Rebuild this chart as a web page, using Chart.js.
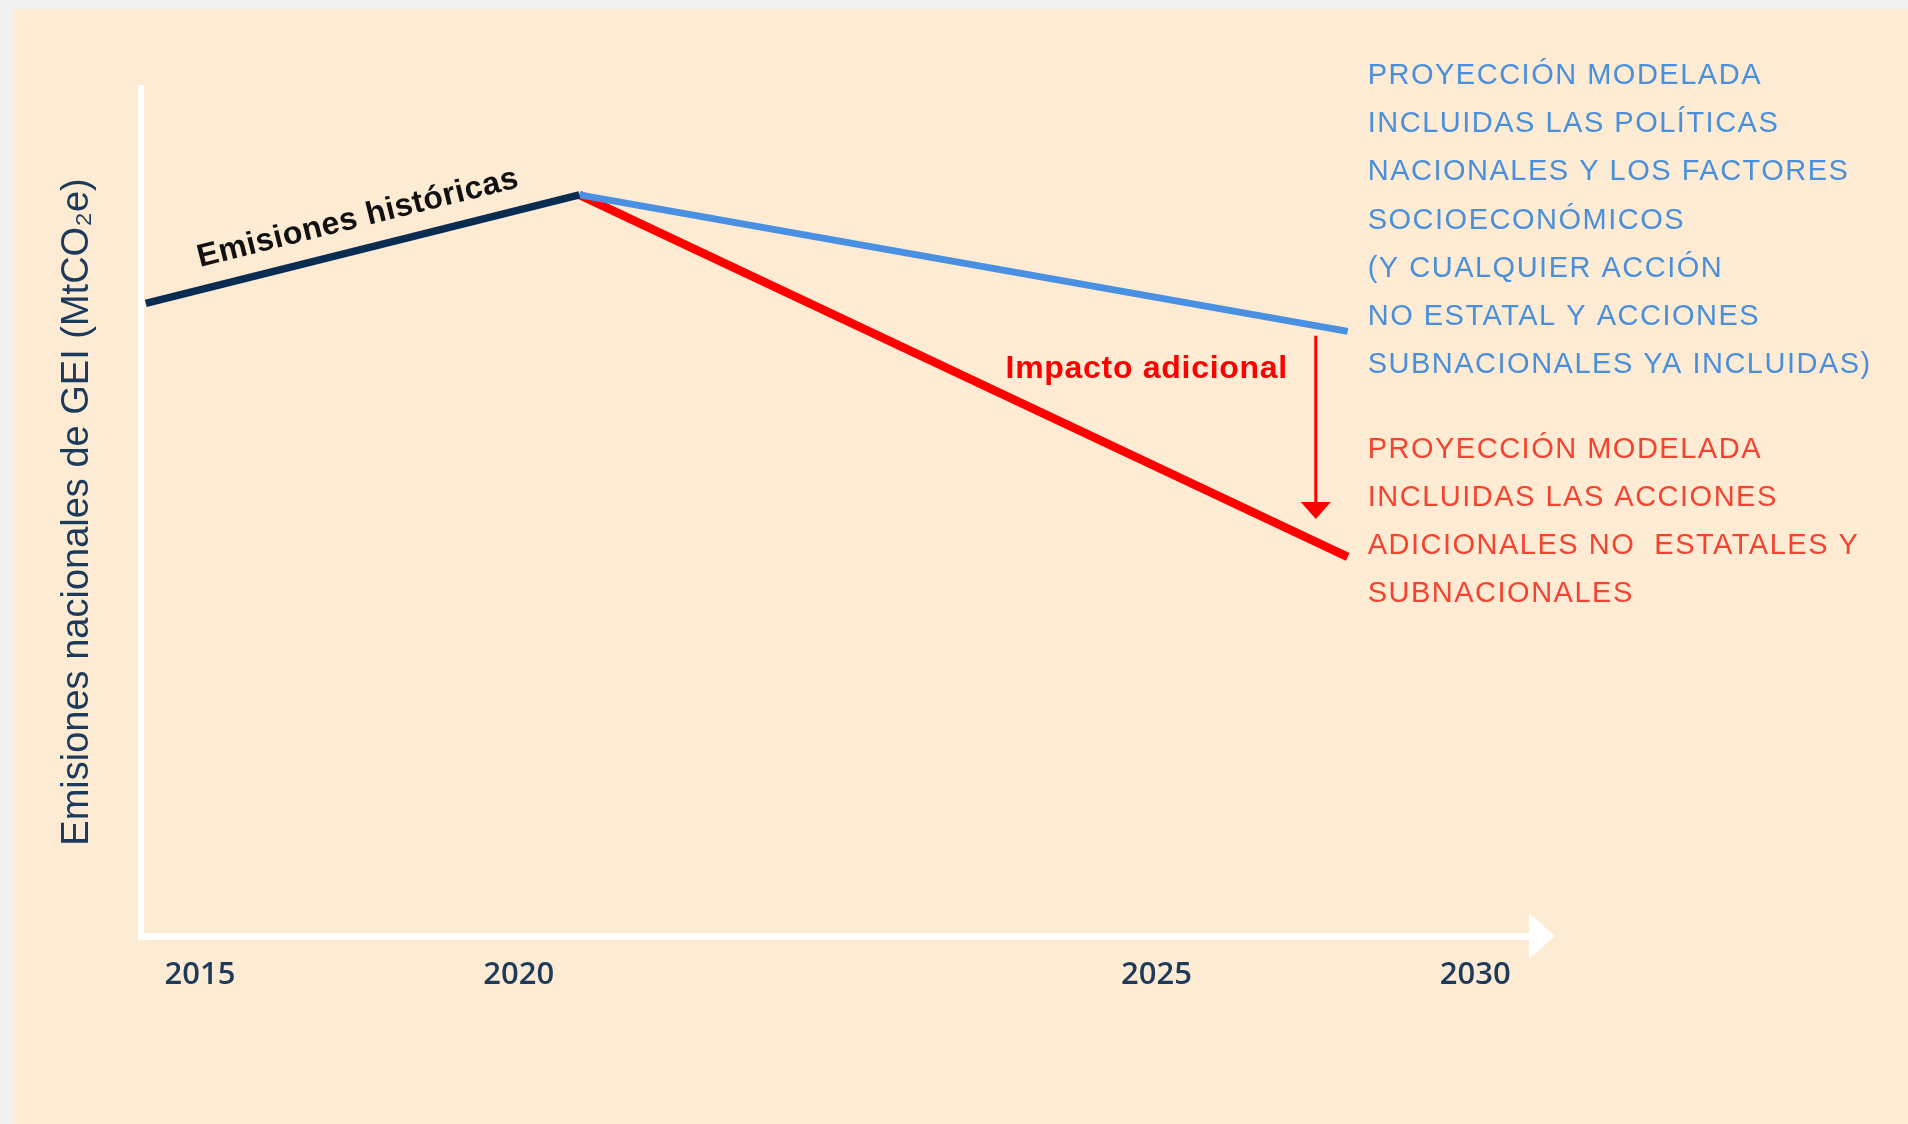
<!DOCTYPE html>
<html>
<head>
<meta charset="utf-8">
<script src="https://cdn.jsdelivr.net/npm/chart.js@4/dist/chart.umd.min.js"></script>
<style>
html,body{margin:0;padding:0;background:#f1f1f1;overflow:hidden}
#wrap{position:absolute;left:0;top:0;width:1908px;height:1124px}
</style>
</head>
<body>
<div id="wrap"><canvas id="c" width="1908" height="1124"></canvas></div>
<script>
// schematic x units: 2015=0, 2020=1, 2025=3, 2030=4
const tickPos=[0,1,3,4]
const tickLabels=["2015","2020","2025","2030"]

const histX=[-0.17,1.19]
const histY=[74.6,87.4]
const blueX=[1.19,3.6]
const blueY=[87.4,71.3]
const redX=[1.19,3.6]
const redY=[87.4,44.7]
const arrowX=3.5

const yTitle="Emisiones nacionales de GEI (MtCO₂e)"
const histLabel="Emisiones históricas"
const impactLabel="Impacto adicional"
const blueNote=[
"PROYECCIÓN MODELADA",
"INCLUIDAS LAS POLÍTICAS",
"NACIONALES Y LOS FACTORES",
"SOCIOECONÓMICOS",
"(Y CUALQUIER ACCIÓN",
"NO ESTATAL Y ACCIONES",
"SUBNACIONALES YA INCLUIDAS)"
]
const redNote=[
"PROYECCIÓN MODELADA",
"INCLUIDAS LAS ACCIONES",
"ADICIONALES NO  ESTATALES Y",
"SUBNACIONALES"
]

const NAVY="#0b2c52"
const BLUE="#4a90e2"
const RED="#ff0000"

const pts=(xs,ys)=>xs.map((x,i)=>({x:x,y:ys[i]}))

const bgPlugin={
id:"bg",
beforeDraw(chart){
const ctx=chart.ctx
ctx.save()
ctx.fillStyle="#f1f1f1"
ctx.fillRect(0,0,chart.width,chart.height)
ctx.fillStyle="#feebd3"
ctx.fillRect(13,9,chart.width-13,chart.height-9)
ctx.restore()
}
}

const notesPlugin={
id:"notes",
afterDraw(chart){
const ctx=chart.ctx
const xs=chart.scales.x
const ys=chart.scales.y
const area=chart.chartArea
ctx.save()

// arrow head on x axis
ctx.fillStyle="#ffffff"
ctx.beginPath()
ctx.moveTo(area.right-2,area.bottom-23)
ctx.lineTo(area.right+24,area.bottom)
ctx.lineTo(area.right-2,area.bottom+23)
ctx.closePath()
ctx.fill()

// historical label along the line
const x0=xs.getPixelForValue(histX[0]),y0=ys.getPixelForValue(histY[0])
const x1=xs.getPixelForValue(histX[1]),y1=ys.getPixelForValue(histY[1])
const ang=Math.atan2(y1-y0,x1-x0)
ctx.translate((x0+x1)/2,(y0+y1)/2)
ctx.rotate(ang)
ctx.font="bold 32px 'Liberation Sans', Arial, sans-serif"
ctx.letterSpacing="0.5px"
ctx.fillStyle="#111111"
ctx.textAlign="center"
ctx.textBaseline="middle"
ctx.fillText(histLabel,3,-31)
ctx.setTransform(1,0,0,1,0,0)

// impact arrow between projections
const ax=xs.getPixelForValue(arrowX)
const bY=ys.getPixelForValue(blueY[0]+(blueY[1]-blueY[0])*(arrowX-blueX[0])/(blueX[1]-blueX[0]))
const rY=ys.getPixelForValue(redY[0]+(redY[1]-redY[0])*(arrowX-redX[0])/(redX[1]-redX[0]))
const top=bY+10,tip=rY-23
ctx.strokeStyle=RED
ctx.lineWidth=3
ctx.beginPath()
ctx.moveTo(ax,top)
ctx.lineTo(ax,tip-14)
ctx.stroke()
ctx.fillStyle=RED
ctx.beginPath()
ctx.moveTo(ax-15,tip-17)
ctx.lineTo(ax+15,tip-17)
ctx.lineTo(ax,tip)
ctx.closePath()
ctx.fill()

ctx.font="bold 32px 'Liberation Sans', Arial, sans-serif"
ctx.letterSpacing="0.7px"
ctx.textAlign="right"
ctx.textBaseline="alphabetic"
ctx.fillText(impactLabel,ax-28,378)

// side notes
const nx=xs.getPixelForValue(blueX[1])+20
ctx.font="29px 'Liberation Sans', Arial, sans-serif"
ctx.letterSpacing="1.5px"
ctx.textAlign="left"
ctx.textBaseline="middle"
ctx.fillStyle="#4a8fdc"
blueNote.forEach((t,i)=>ctx.fillText(t,nx,76+i*48.2))
ctx.fillStyle="#f5432f"
redNote.forEach((t,i)=>ctx.fillText(t,nx,449.5+i*48))
ctx.letterSpacing="0px"
ctx.restore()
}
}

new Chart(document.getElementById("c"),{
type:"line",
data:{
datasets:[
{data:pts(histX,histY),borderColor:NAVY,borderWidth:7.5},
{data:pts(blueX,blueY),borderColor:BLUE,borderWidth:7},
{data:pts(redX,redY),borderColor:RED,borderWidth:8.5}
]
},
options:{
responsive:false,
animation:false,
devicePixelRatio:1,
layout:{padding:{left:0,top:88,right:377,bottom:0}},
elements:{point:{radius:0},line:{tension:0,borderCapStyle:"butt"}},
plugins:{legend:{display:false},tooltip:{enabled:false}},
scales:{
x:{
type:"linear",
min:-0.185,
max:4.175,
grid:{display:false,drawTicks:false},
border:{display:true,color:"#ffffff",width:7},
afterBuildTicks(scale){scale.ticks=tickPos.map(v=>({value:v}))},
afterFit(scale){scale.height=188},
ticks:{
padding:21,
color:"#1e3a5a",
font:{family:"'Open Sans', sans-serif",size:31,weight:"600"},
callback:(v)=>tickLabels[tickPos.indexOf(v)]
}
},
y:{
type:"linear",
min:0,
max:100,
grid:{display:false,drawTicks:false},
border:{display:true,color:"#ffffff",width:6},
ticks:{display:false},
afterFit(scale){scale.width=141},
title:{
display:true,
text:yTitle,
color:"#1b3a5c",
font:{family:"'Liberation Sans', Arial, sans-serif",size:38,weight:"normal"},
padding:{top:55,bottom:0}
}
}
}
},
plugins:[bgPlugin,notesPlugin]
})
</script>
</body>
</html>
